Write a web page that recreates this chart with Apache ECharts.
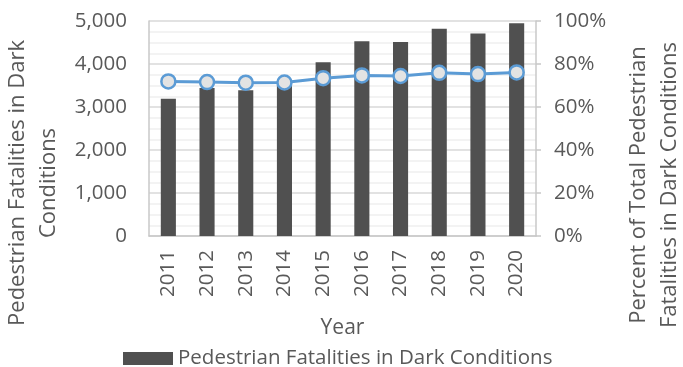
<!DOCTYPE html>
<html>
<head>
<meta charset="utf-8">
<script src="https://cdn.jsdelivr.net/npm/echarts@6/dist/echarts.min.js"></script>
<style>
  html, body { margin: 0; padding: 0; background: #fff; }
  #chart { width: 683px; height: 367px; }
</style>
</head>
<body>
<div id="chart"></div>
<script>
// Pedestrian fatalities that happened in dark conditions, 2011-2020
const years = ['2011', '2012', '2013', '2014', '2015', '2016', '2017', '2018', '2019', '2020'];
const darkFatalities = [3190, 3440, 3390, 3500, 4040, 4530, 4510, 4820, 4710, 4950];
const darkPercent = [71.9, 71.6, 71.3, 71.4, 73.4, 74.7, 74.4, 75.9, 75.3, 76.1];
const countTicks = [0, 1000, 2000, 3000, 4000, 5000];
const percentTicks = [0, 20, 40, 60, 80, 100];

const barName = 'Pedestrian Fatalities in Dark Conditions';
const textColor = '#595959';
const fontFamily = '"Open Sans", Lato, sans-serif';

const chart = echarts.init(document.getElementById('chart'));
chart.setOption({
  animation: false,
  textStyle: { fontFamily: fontFamily, color: textColor },
  grid: { left: 149, right: 147, top: 21, bottom: 131, containLabel: false },
  legend: {
    data: [barName],
    left: 118,
    top: 343,
    itemWidth: 50,
    itemHeight: 13,
    itemGap: 6,
    icon: 'rect',
    textStyle: { fontFamily: fontFamily, fontSize: 20.5, color: textColor }
  },
  xAxis: {
    type: 'category',
    data: years,
    name: 'Year',
    nameLocation: 'middle',
    nameGap: 82,
    nameTextStyle: { fontSize: 21, color: textColor },
    axisLine: { lineStyle: { color: '#c8c8c8', width: 1.5 } },
    axisTick: { show: false },
    axisLabel: { rotate: 90, margin: 14, fontSize: 20.5, color: textColor }
  },
  yAxis: [
    {
      type: 'value',
      min: countTicks[0],
      max: countTicks[countTicks.length - 1],
      interval: countTicks[1] - countTicks[0],
      axisLine: { show: true, lineStyle: { color: '#c8c8c8', width: 1.5 } },
      axisTick: { show: false },
      axisLabel: {
        margin: 22,
        fontSize: 20.5,
        color: textColor,
        formatter: v => v.toLocaleString('en-US')
      },
      splitLine: { show: true, lineStyle: { color: '#d9d9d9', width: 1.5 } },
      minorTick: { show: false, splitNumber: 4 },
      minorSplitLine: { show: true, lineStyle: { color: '#efefef', width: 1.5 } }
    },
    {
      type: 'value',
      min: percentTicks[0],
      max: percentTicks[percentTicks.length - 1],
      interval: percentTicks[1] - percentTicks[0],
      position: 'right',
      axisLine: { show: true, lineStyle: { color: '#c8c8c8', width: 1.5 } },
      axisTick: { show: true, length: 5, inside: false, lineStyle: { color: '#c8c8c8', width: 1.5 } },
      axisLabel: { margin: 18, fontSize: 20.5, color: textColor, formatter: v => v + '%' },
      splitLine: { show: false }
    }
  ],
  graphic: [
    {
      type: 'text',
      x: 33,
      y: 183,
      rotation: Math.PI / 2,
      style: {
        text: 'Pedestrian Fatalities in Dark\nConditions',
        fill: textColor,
        font: '22px ' + fontFamily,
        align: 'center',
        verticalAlign: 'middle',
        lineHeight: 31
      }
    },
    {
      type: 'text',
      x: 654,
      y: 185,
      rotation: Math.PI / 2,
      style: {
        text: 'Percent of Total Pedestrian\nFatalities in Dark Conditions',
        fill: textColor,
        font: '22px ' + fontFamily,
        align: 'center',
        verticalAlign: 'middle',
        lineHeight: 31
      }
    }
  ],
  series: [
    {
      name: barName,
      type: 'bar',
      yAxisIndex: 0,
      data: darkFatalities,
      barWidth: '39%',
      itemStyle: { color: '#505050' }
    },
    {
      name: 'Percent of Total Pedestrian Fatalities in Dark Conditions',
      type: 'line',
      yAxisIndex: 1,
      data: darkPercent,
      symbol: 'circle',
      symbolSize: 14,
      lineStyle: { color: '#5b9bd5', width: 3 },
      itemStyle: { color: '#e3e3e3', borderColor: '#5b9bd5', borderWidth: 2.5 }
    }
  ]
});
</script>
</body>
</html>
